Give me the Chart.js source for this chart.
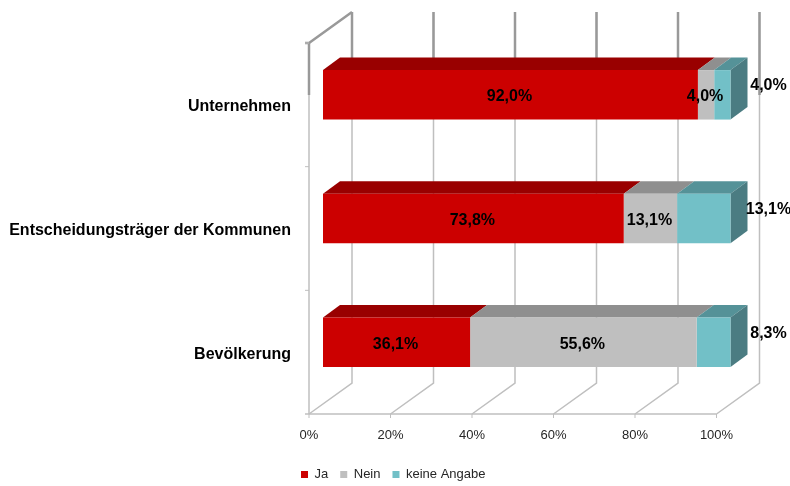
<!DOCTYPE html>
<html><head><meta charset="utf-8">
<style>html,body{margin:0;padding:0;background:#fff}#w{width:790px;height:486px;position:relative}</style>
<script src="https://cdn.jsdelivr.net/npm/chart.js@4/dist/chart.umd.min.js"></script>
</head><body><div id="w"><canvas id="c"></canvas></div>
<script>
const categories = ['Unternehmen','Entscheidungsträger der Kommunen','Bevölkerung'];
const ja = [92.0,73.8,36.1];
const nein = [4.0,13.1,55.6];
const keineAngabe = [4.0,13.1,8.3];
const xTicks = [0,20,40,60,80,100];
const frontColors = ['#CC0000','#BFBFBF','#72C0C7'];
const topColors = ['#990000','#8F8F8F','#559298'];
const sideColors = ['#990000','#8F8F8F','#4B7C82'];
const fmt = v => v.toFixed(1).replace('.',',')+'%';
const FONT = '"Liberation Sans", Arial, sans-serif';
const SHIFT = {x:14,y:-10}, DEPTH = {x:17,y:-12.5}, WALL = {x:43,y:-31};
const OUT = {x:38,y:-9};

const wall3d = {
  id:'wall3d',
  afterLayout(chart){
    const l=chart.legend;
    l.left+=35;l.right+=35;l.top+=9;l.bottom+=9;
  },
  beforeDatasetsDraw(chart){
    const {ctx,chartArea:a,scales:{x,y}} = chart;
    const top = 12, floorBack = a.bottom+WALL.y;
    const line=(pts,c,w)=>{ctx.beginPath();pts.forEach((p,i)=>i?ctx.lineTo(p[0],p[1]):ctx.moveTo(p[0],p[1]));ctx.strokeStyle=c;ctx.lineWidth=w;ctx.stroke();};
    ctx.save();
    const L='#BFBFBF', D='#999999';
    // floor and back wall
    xTicks.forEach(t=>{
      const px=x.getPixelForValue(t);
      line([[px,a.bottom],[px+WALL.x,floorBack],[px+WALL.x,top]],L,1.5);
      line([[px+WALL.x,top],[px+WALL.x,95]],D,2.5);
      line([[px,a.bottom],[px,a.bottom+4]],L,1);
    });
    line([[a.left-4,a.bottom],[a.right,a.bottom]],L,1.5);
    // side wall
    line([[a.left,a.top],[a.left,a.bottom]],L,1.5);
    line([[a.left,a.top],[a.left,95]],D,2.5);
    line([[a.left-4,a.top],[a.left,a.top],[a.left+WALL.x,top]],D,2.5);
    const bands=[a.top,a.top+(a.bottom-a.top)/3,a.top+2*(a.bottom-a.top)/3];
    bands.forEach(b=>line([[a.left-4,b],[a.left,b]],L,1));
    // 3D faces
    ctx.translate(SHIFT.x,SHIFT.y);
    chart.data.datasets.forEach((ds,d)=>{
      chart.getDatasetMeta(d).data.forEach(el=>{
        const x0=el.base,x1=el.x,t=el.y-el.height/2,b=el.y+el.height/2;
        ctx.fillStyle=topColors[d];
        ctx.beginPath();ctx.moveTo(x0,t);ctx.lineTo(x0+DEPTH.x,t+DEPTH.y);ctx.lineTo(x1+DEPTH.x,t+DEPTH.y);ctx.lineTo(x1,t);ctx.closePath();ctx.fill();
        if(d===2){
          ctx.fillStyle=sideColors[d];
          ctx.beginPath();ctx.moveTo(x1,t);ctx.lineTo(x1+DEPTH.x,t+DEPTH.y);ctx.lineTo(x1+DEPTH.x,b+DEPTH.y);ctx.lineTo(x1,b);ctx.closePath();ctx.fill();
        }
      });
    });
    ctx.restore();
    ctx.save();
    ctx.translate(SHIFT.x,SHIFT.y);
  },
  afterDatasetsDraw(chart){
    const {ctx}=chart;
    ctx.restore();
    ctx.save();
    ctx.font='bold 16px '+FONT;ctx.fillStyle='#000';ctx.textAlign='center';ctx.textBaseline='middle';
    chart.data.datasets.forEach((ds,d)=>{
      chart.getDatasetMeta(d).data.forEach((el,i)=>{
        const txt=fmt(ds.data[i]);
        if(d===2) ctx.fillText(txt,el.x+SHIFT.x+OUT.x,el.y+SHIFT.y+OUT.y);
        else ctx.fillText(txt,(el.x+el.base)/2+SHIFT.x-1,el.y+SHIFT.y+2);
      });
    });
    ctx.restore();
  }
};

new Chart(document.getElementById('c'),{
  type:'bar',
  data:{labels:categories,datasets:[
    {label:'Ja',data:ja,backgroundColor:frontColors[0]},
    {label:'Nein',data:nein,backgroundColor:frontColors[1]},
    {label:'keine Angabe',data:keineAngabe,backgroundColor:frontColors[2]}
  ]},
  options:{
    indexAxis:'y',responsive:true,maintainAspectRatio:false,animation:false,
    layout:{padding:{left:0,right:73.5,top:43,bottom:4}},
    datasets:{bar:{categoryPercentage:0.4,barPercentage:1,clip:false,borderWidth:0}},
    scales:{
      x:{stacked:true,min:0,max:100,position:'bottom',
        afterBuildTicks(s){s.ticks=xTicks.map(v=>({value:v}));},
        grid:{display:false},border:{display:false},
        ticks:{callback:v=>v+'%',color:'#262626',font:{family:FONT,size:13},padding:6,maxRotation:0,autoSkip:false},
        afterFit(s){s.height=33;}},
      y:{stacked:true,
        grid:{display:false},border:{display:false},
        ticks:{color:'#000',font:{family:FONT,size:16,weight:'bold'},padding:10,labelOffset:2,autoSkip:false},
        afterFit(s){s.width=309;}}
    },
    plugins:{
      tooltip:{enabled:false},
      legend:{position:'bottom',labels:{boxWidth:7,boxHeight:7,padding:12,color:'#262626',font:{family:FONT,size:13}}}
    }
  },
  plugins:[wall3d]
});
</script></body></html>
